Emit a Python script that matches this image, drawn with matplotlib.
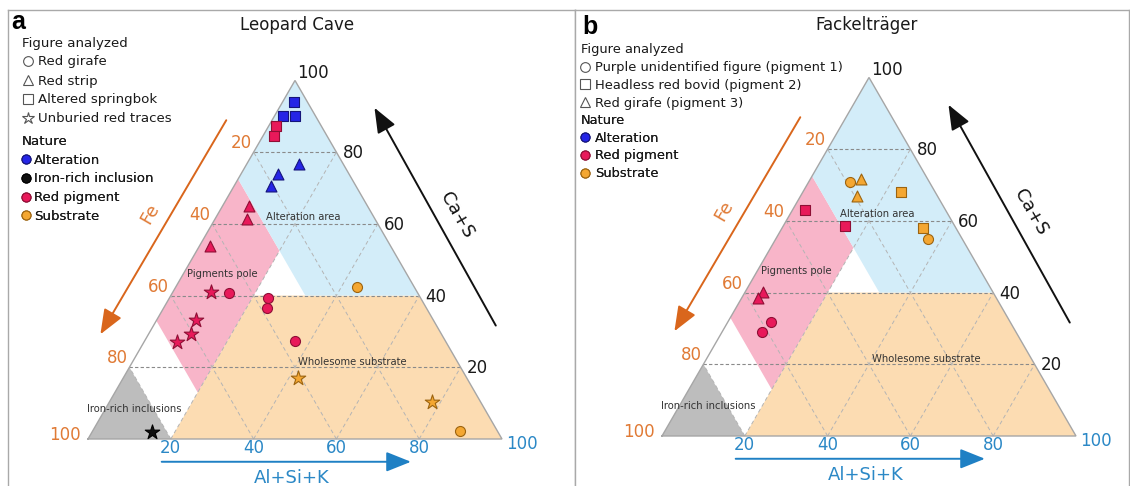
import numpy as np
import matplotlib
matplotlib.use("Agg")
import matplotlib.pyplot as plt
from matplotlib.patches import Polygon
from matplotlib.lines import Line2D

plt.rcParams['font.family'] = ['DejaVu Sans']

# ------------------------------------------------------------------ data
# Panel a : Leopard Cave  (ternary composition, %)
a_figures = ["Red girafe", "Red strip", "Altered springbok", "Unburied red traces"]
a_natures = ["Alteration", "Iron-rich inclusion", "Red pigment", "Substrate"]
a_ca_s = [94.0, 90.0, 90.0, 87.2, 84.4, 76.7, 73.9, 70.5, 65.1, 61.4, 53.8,
          41.1, 33.1, 29.4, 27.0, 16.9, 10.3, 1.9,
          40.7, 39.2, 36.4, 27.2, 42.3, 2.1]
a_al_si_k = [2.7, 2.0, 4.9, 1.7, 2.7, 12.7, 9.0, 9.0, 6.3, 7.8, 2.5,
             9.1, 9.5, 10.1, 7.9, 42.3, 78.0, 14.6,
             13.6, 23.8, 25.0, 36.3, 43.9, 88.9]
a_fe = [3.3, 8.0, 5.1, 11.1, 12.9, 10.6, 17.1, 20.5, 28.6, 30.8, 43.7,
        49.8, 57.4, 60.5, 65.1, 40.8, 11.7, 83.5,
        45.7, 37.0, 38.6, 36.5, 13.8, 9.0]
a_figure = (["Altered springbok"] * 5 + ["Red strip"] * 6 +
            ["Unburied red traces"] * 7 + ["Red girafe"] * 6)
a_nature = (["Alteration"] * 3 + ["Red pigment"] * 2 +
            ["Alteration"] * 3 + ["Red pigment"] * 3 +
            ["Red pigment"] * 4 + ["Substrate"] * 2 + ["Iron-rich inclusion"] +
            ["Red pigment"] * 4 + ["Substrate"] * 2)

# Panel b : Fackelträger
b_figures = ["Purple unidentified figure (pigment 1)",
             "Headless red bovid (pigment 2)", "Red girafe (pigment 3)"]
b_natures = ["Alteration", "Red pigment", "Substrate"]
b_ca_s = [70.8, 54.9, 31.9, 29.1, 68.0, 58.1, 62.9, 58.6, 71.7, 66.8, 40.3, 38.4]
b_al_si_k = [10.0, 36.7, 10.3, 9.5, 23.8, 34.0, 3.0, 14.9, 12.3, 13.8, 4.3, 4.0]
b_fe = [19.2, 8.4, 57.8, 61.4, 8.2, 7.9, 34.1, 26.5, 16.0, 19.4, 55.4, 57.6]
b_figure = ([b_figures[0]] * 4 + [b_figures[1]] * 4 + [b_figures[2]] * 4)
b_nature = (["Substrate"] * 2 + ["Red pigment"] * 2 +
            ["Substrate"] * 2 + ["Red pigment"] * 2 +
            ["Substrate"] * 2 + ["Red pigment"] * 2)

tick_values = [20, 40, 60, 80, 100]
grid_values = [20, 40, 60, 80]

# compositional domains (%)
ALT_CA_MIN, ALT_FE_MAX = 40, 27.5
PIG_AL_MAX, PIG_FE_MIN, PIG_FE_MAX = 20, 27.5, 67
SUB_CA_MAX, SUB_AL_MIN = 40, 20
IRON_FE_MIN = 80

# ------------------------------------------------------------------ style
NATURE_COL = {"Alteration": ("#2525e6", "#15157a"),
              "Iron-rich inclusion": ("#101010", "#000000"),
              "Red pigment": ("#e8195a", "#8e0f35"),
              "Substrate": ("#f4a732", "#9c6410")}
SHAPES_A = {"Red girafe": "o", "Red strip": "^", "Altered springbok": "s",
            "Unburied red traces": "*"}
SHAPES_B = {b_figures[0]: "o", b_figures[1]: "s", b_figures[2]: "^"}
MSIZE = {"o": 52, "^": 62, "s": 50, "*": 120}

ORANGE_TXT = "#e07a35"
ORANGE_ARROW = "#d9661c"
BLUE_TXT = "#2b88c6"
BLUE_ARROW = "#1f80c4"
FILL_ALT = "#d3edf9"
FILL_PIG = "#f8b5c9"
FILL_SUB = "#fcdcb2"
FILL_IRON = "#bdbdbd"

W, H = 1130, 486
S3 = np.sqrt(3) / 2


def tern(ca, al):
    ca = np.asarray(ca, float)
    al = np.asarray(al, float)
    return al + ca / 2.0, ca * S3


fig = plt.figure(figsize=(W / 100, H / 100), dpi=100)

SCALE = 4.14  # px per percent


def make_ax(x0, x1, left_px, base_px):
    ax = fig.add_axes([x0 / W, 0, (x1 - x0) / W, (H - 10) / H])
    ax.set_xlim((x0 - left_px) / SCALE, (x1 - left_px) / SCALE)
    ax.set_ylim(-(H - base_px) / SCALE, (base_px - 10) / SCALE)
    ax.set_xticks([])
    ax.set_yticks([])
    for side in ["left", "top", "right"]:
        ax.spines[side].set_color("#a9a9a9")
        ax.spines[side].set_linewidth(1.0)
    ax.spines["bottom"].set_visible(False)
    return ax


def region(ax, pts, color):
    ca, al = zip(*pts)
    x, y = tern(ca, al)
    ax.add_patch(Polygon(np.column_stack([x, y]), closed=True, facecolor=color,
                         edgecolor="none", zorder=1))


def draw_base(ax):
    region(ax, [(0, 0), (0, 100 - IRON_FE_MIN), (100 - IRON_FE_MIN, 0)], FILL_IRON)
    region(ax, [(0, SUB_AL_MIN), (0, 100), (SUB_CA_MAX, 100 - SUB_CA_MAX),
                (SUB_CA_MAX, SUB_AL_MIN)], FILL_SUB)
    region(ax, [(100 - PIG_FE_MAX, 0), (100 - PIG_FE_MIN, 0),
                (100 - PIG_FE_MIN - PIG_AL_MAX, PIG_AL_MAX),
                (100 - PIG_FE_MAX - PIG_AL_MAX, PIG_AL_MAX)], FILL_PIG)
    region(ax, [(100, 0), (100 - ALT_FE_MAX, 0),
                (ALT_CA_MIN, 100 - ALT_FE_MAX - ALT_CA_MIN),
                (ALT_CA_MIN, 100 - ALT_CA_MIN)], FILL_ALT)
    # grid
    for v in grid_values:
        x, y = tern([v, v], [0, 100 - v])
        ax.plot(x, y, color="#8a8a8a", lw=0.8, ls=(0, (3, 2)), zorder=2)
        x, y = tern([0, 100 - v], [v, v])
        ax.plot(x, y, color="#b4b4b4", lw=0.7, ls=(0, (4, 3)), zorder=2)
        x, y = tern([0, 100 - v], [100 - v, 0])
        ax.plot(x, y, color="#b4b4b4", lw=0.7, ls=(0, (4, 3)), zorder=2)
    # outline
    x, y = tern([0, 0, 100, 0], [0, 100, 0, 0])
    ax.plot(x, y, color="#a6a6a6", lw=1.0, zorder=3, solid_joinstyle="miter")

    # region names
    for txt, ca, al in [("Alteration area", 61.8, 21.1), ("Pigments pole", 46.1, 9.5),
                        ("Wholesome substrate", 21.4, 53.1),
                        ("Iron-rich inclusions", 8.3, 7.0)]:
        x, y = tern(ca, al)
        ax.text(x, y, txt, fontsize=7.2, color="#333333", ha="center",
                va="center", zorder=4)

    # tick labels
    for v in tick_values:
        # left edge: Fe
        x, y = tern(100 - v, 0)
        dy = 9 if v < 100 else 4
        dx = -2 if v < 100 else -7
        ax.annotate(str(v), (x, y), xytext=(dx * 0.72, dy * 0.72),
                    textcoords="offset points", ha="right", va="center",
                    fontsize=12, color=ORANGE_TXT, zorder=5)
        # right edge: Ca+S
        x, y = tern(v, 100 - v)
        if v < 100:
            ax.annotate(str(v), (x, y), xytext=(6 * 0.72, -1 * 0.72),
                        textcoords="offset points", ha="left", va="center",
                        fontsize=12, color="#1a1a1a", zorder=5)
        else:
            ax.annotate(str(v), (x, y), xytext=(2 * 0.72, 7 * 0.72),
                        textcoords="offset points", ha="left", va="center",
                        fontsize=12, color="#1a1a1a", zorder=5)
        # bottom: Al+Si+K
        x, y = tern(0, v)
        if v < 100:
            ax.annotate(str(v), (x, y), xytext=(0, -9 * 0.72),
                        textcoords="offset points", ha="center", va="center",
                        fontsize=12, color=BLUE_TXT, zorder=5)
        else:
            ax.annotate(str(v), (x, y), xytext=(4 * 0.72, -5 * 0.72),
                        textcoords="offset points", ha="left", va="center",
                        fontsize=12, color=BLUE_TXT, zorder=5)

    # axis arrows and names
    ax.annotate("", xy=(3.0, 25.3), xytext=(33.4, 77.0),
                arrowprops=dict(arrowstyle="-|>,head_length=0.95,head_width=0.38",
                                color=ORANGE_ARROW, lw=1.4, mutation_scale=16,
                                shrinkA=0, shrinkB=0))
    ax.annotate("", xy=(69.2, 80.0), xytext=(98.5, 27.4),
                arrowprops=dict(arrowstyle="-|>,head_length=0.95,head_width=0.38",
                                color="#111111", lw=1.4, mutation_scale=16,
                                shrinkA=0, shrinkB=0))
    ax.annotate("", xy=(78.0, -5.5), xytext=(17.8, -5.5),
                arrowprops=dict(arrowstyle="-|>,head_length=0.95,head_width=0.38",
                                color=BLUE_ARROW, lw=1.4, mutation_scale=16,
                                shrinkA=0, shrinkB=0))
    ax.text(15.0, 54.5, "Fe", rotation=60, fontsize=13, color=ORANGE_TXT,
            ha="center", va="center")
    ax.text(89.0, 54.0, "Ca+S", rotation=-60, fontsize=13, color="#111111",
            ha="center", va="center")
    ax.text(49.3, -9.4, "Al+Si+K", fontsize=13, color=BLUE_TXT,
            ha="center", va="center")


def draw_points(ax, ca, al, fe, figs, nats, shapes):
    tot = np.asarray(ca) + np.asarray(al) + np.asarray(fe)
    ca_n = np.asarray(ca) / tot * 100
    al_n = np.asarray(al) / tot * 100
    x, y = tern(ca_n, al_n)
    for i in range(len(x)):
        m = shapes[figs[i]]
        fc, ec = NATURE_COL[nats[i]]
        ax.scatter([x[i]], [y[i]], marker=m, s=MSIZE[m], facecolor=fc,
                   edgecolor=ec, linewidth=0.8, zorder=6)


def add_legend(ax, title, labels, handles, x_px, top_px, fs, ls, hl, htp):
    leg = ax.legend(handles, labels, title=title, loc="upper left",
                    bbox_to_anchor=(x_px / W, 1 - top_px / H),
                    bbox_transform=fig.transFigure, frameon=False, fontsize=fs,
                    title_fontsize=fs, labelspacing=ls, handlelength=hl,
                    handletextpad=htp, borderpad=0, borderaxespad=0,
                    alignment="left", handleheight=0.7)
    for t in leg.get_texts():
        t.set_color("#1a1a1a")
    leg.get_title().set_color("#1a1a1a")
    ax.add_artist(leg)


def open_handle(m):
    return Line2D([], [], ls="none", marker=m, markersize=7 if m != "*" else 9,
                  markerfacecolor="none", markeredgecolor="#555555",
                  markeredgewidth=0.8)


def nature_handle(n):
    fc, ec = NATURE_COL[n]
    return Line2D([], [], ls="none", marker="o", markersize=6.5,
                  markerfacecolor=fc, markeredgecolor=ec, markeredgewidth=0.8)


# ---------------------------------------------------------------- panel a
axa = make_ax(8, 575, 88, 439)
draw_base(axa)
draw_points(axa, a_ca_s, a_al_si_k, a_fe, a_figure, a_nature, SHAPES_A)
axa.text(50.5, 100.0, "Leopard Cave", fontsize=12, ha="center", va="center",
         color="#1a1a1a")
axa.text(-18.6, 99.0, "a", fontsize=18, fontweight="bold", ha="left",
         va="baseline", family="Liberation Sans")
add_legend(axa, "Figure analyzed", a_figures,
           [open_handle(SHAPES_A[f]) for f in a_figures],
           22, 36.5, 9.6, 0.45, 0.9, 0.3)
add_legend(axa, "Nature", a_natures, [nature_handle(n) for n in a_natures],
           22, 135, 9.6, 0.43, 0.55, 0.35)

# ---------------------------------------------------------------- panel b
axb = make_ax(575, 1129, 662, 436)
draw_base(axb)
draw_points(axb, b_ca_s, b_al_si_k, b_fe, b_figure, b_nature, SHAPES_B)
axb.text(49.5, 99.3, "Fackelträger", fontsize=12, ha="center", va="center",
         color="#1a1a1a")
axb.text(-19.2, 97.0, "b", fontsize=18, fontweight="bold", ha="left",
         va="baseline", family="Liberation Sans")
add_legend(axb, "Figure analyzed", b_figures,
           [open_handle(SHAPES_B[f]) for f in b_figures],
           581, 43.5, 9.4, 0.36, 0.6, 0.5)
add_legend(axb, "Nature", b_natures, [nature_handle(n) for n in b_natures],
           581, 114, 9.4, 0.36, 0.6, 0.5)

fig.savefig("out.png", dpi=100)
